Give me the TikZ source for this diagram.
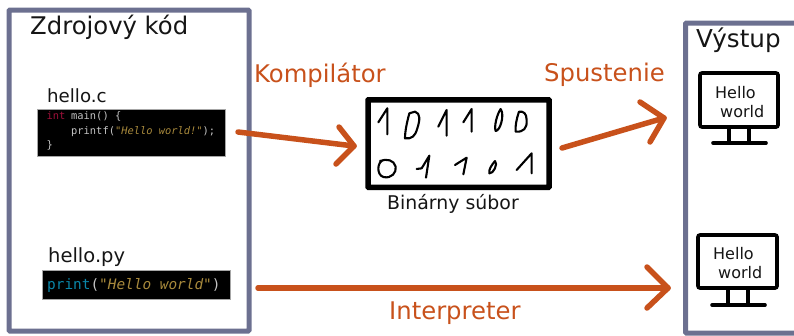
\documentclass[tikz,border=0pt]{standalone}
\usepackage{fontspec}
\setmainfont{DejaVu Sans}
\setmonofont{DejaVu Sans Mono}
\usetikzlibrary{arrows.meta}
\definecolor{framec}{HTML}{6C7090}
\definecolor{orangec}{HTML}{C8511B}
\definecolor{txtc}{HTML}{151515}
\definecolor{kwred}{HTML}{A0103A}
\definecolor{strc}{HTML}{A98A3C}
\definecolor{kwblue}{HTML}{0A86A8}
\definecolor{codegr}{HTML}{C4C4C4}
\newcommand{\fsz}[1]{\fontsize{#1}{#1}\selectfont}
\tikzset{
  x=1pt,y=-1pt,
  panel/.style={draw=framec,line width=5pt,rounded corners=1pt,fill=white},
  flow/.style={draw=orangec,line width=5.5pt,line cap=round,line join=round},
  head/.style={draw=orangec,line width=5.5pt,line cap=round,line join=round},
  lab/.style={inner sep=0pt,anchor=base west,text=txtc},
  olab/.style={inner sep=0pt,anchor=base west,text=orangec,font=\fsz{24.3}},
  codebox/.style={fill=black,draw=gray!70,line width=.4pt},
  code/.style={inner sep=0pt,anchor=base west,font=\ttfamily\fsz{10.4},text=codegr},
  screen/.style={draw=black,line width=3.6pt,rounded corners=2pt,fill=white},
  stand/.style={draw=black,line width=3.6pt,line cap=round},
  digit/.style={draw=black,line width=2.1pt,line join=round,line cap=round},
}
\begin{document}
\begin{tikzpicture}
\useasboundingbox (0,0) rectangle (794,335);
% panels
\path[panel] (9,10) rectangle (249,331);
\path[panel] (685.5,23) rectangle (805,333);
\node[lab,font=\fsz{24.3}] (src) at (30,34) {Zdrojový kód};
\node[lab,font=\fsz{24.6}] (out) at (696,47) {Výstup};
% C code
\node[lab,font=\fsz{18.2}] (cname) at (47,102.5) {hello.c};
\path[codebox] (37,109.5) rectangle (225,156);
\node[code,text=kwred] (c1) at (46.5,119.5) {int};
\node[code] (c2) at (71,119.5) {main() \{};
\node[code] (c3) at (71,134) {printf(\textcolor{strc}{\textit{"Hello world!"}});};
\node[code] (c4) at (46.5,148) {\}};
% Python code
\node[lab,font=\fsz{19.5}] (pyname) at (48,262) {hello.py};
\path[codebox] (42,270.5) rectangle (230,299.5);
\node[code,font=\ttfamily\fsz{14.4},text=kwblue] (py) at (47,289.5) {print\textcolor{codegr}{(}\textcolor{strc}{\textit{"Hello world"}}\textcolor{codegr}{)}};
% binary
\node[draw=black,line width=5.5pt,minimum width=181pt,minimum height=87.5pt,inner sep=0pt,fill=white,rounded corners=.5pt] (bin) at (458.5,143.5) {};
\node[lab,font=\fsz{18.9}] (binl) at (387,209) {Binárny súbor};
\begin{scope}[shift={(350,85)},x=.3333pt,y=-.3333pt]
\draw[digit] (85,112) -- (112,70) -- (112,148);
\draw[digit] (178,85) .. controls (170,115) and (165,140) .. (165,160) .. controls (185,162) and (195,155) .. (202,130) .. controls (210,105) and (212,85) .. (195,80) -- cycle;
\draw[digit] (265,125) -- (290,75) -- (290,152);
\draw[digit] (340,112) -- (365,72) -- (365,140);
\draw[digit] (452,72) .. controls (440,90) and (432,125) .. (437,138) .. controls (450,138) and (465,90) .. (452,72);
\draw[digit] (507,80) .. controls (500,100) and (495,125) .. (497,140) .. controls (520,142) and (532,130) .. (530,105) .. controls (530,85) and (520,78) .. (507,80);
\draw[digit] (100,225) .. controls (80,232) and (80,270) .. (100,276) .. controls (125,282) and (140,262) .. (137,245) .. controls (132,225) and (110,220) .. (90,228);
\draw[digit] (200,252) -- (215,250) -- (238,212) -- (228,278);
\draw[digit] (315,240) -- (350,218) -- (340,268);
\draw[digit] (435,228) .. controls (425,240) and (415,255) .. (418,265) .. controls (430,268) and (445,235) .. (435,228);
\draw[digit] (500,255) -- (545,205) -- (545,265);
\end{scope}
% flows
\coordinate (a1) at (238,132);
\coordinate (a2) at (354,146);
\draw[flow] (a1) -- (a2);
\draw[head] (339,127) -- (a2) -- (336,164);
\coordinate (b1) at (562,148);
\coordinate (b2) at (664,118);
\draw[flow] (b1) -- (b2);
\draw[head] (640,102) -- (b2) -- (650,142);
\coordinate (d1) at (258,288);
\coordinate (d2) at (668,288);
\draw[flow] (d1) -- (d2);
\draw[head] (647,267) -- (d2) -- (647,308);
\node[olab] (kl) at (254,82) {Kompilátor};
\node[olab] (sl) at (544,81) {Spustenie};
\node[olab] (il) at (389,319) {Interpreter};
% monitors
\path[screen] (700,73) rectangle (778,127);
\draw[stand] (729,127) -- (729,143) (749,127) -- (749,143) (713,143) -- (766,143);
\node[lab,font=\fsz{16}] (h1) at (715,98) {Hello};
\node[lab,font=\fsz{16}] (w1) at (720,117.5) {world};
\path[screen] (698,235) rectangle (777,288);
\draw[stand] (728,288) -- (728,305) (748,288) -- (748,305) (712,305) -- (765,305);
\node[lab,font=\fsz{16}] (h2) at (713,259) {Hello};
\node[lab,font=\fsz{16}] (w2) at (718,278.5) {world};
\end{tikzpicture}
\end{document}
